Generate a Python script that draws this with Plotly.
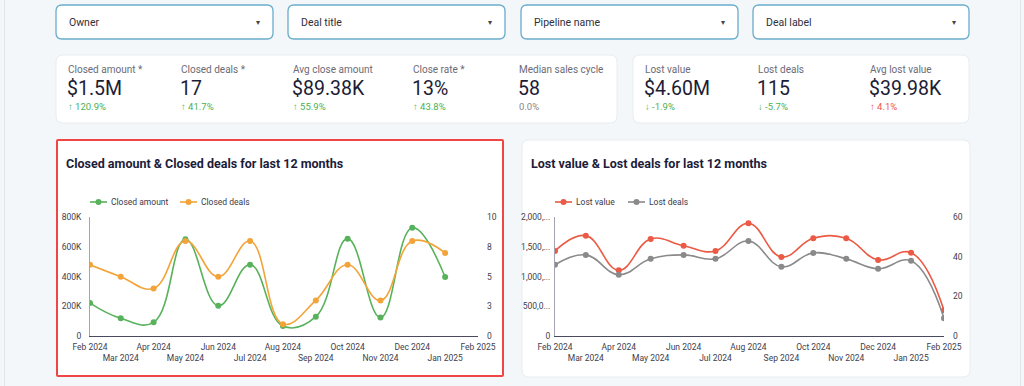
import plotly.graph_objects as go

W, H = 1024, 386

# ---------------- data ----------------
months = ["2024-02-01", "2024-03-01", "2024-04-01", "2024-05-01", "2024-06-01", "2024-07-01",
          "2024-08-01", "2024-09-01", "2024-10-01", "2024-11-01", "2024-12-01", "2025-01-01"]
months_lost = months + ["2025-02-01"]
closed_amount = [222000, 119000, 92000, 652000, 204000, 481000, 67000, 130000, 656000, 124000, 730000, 398000]
closed_deals = [6, 5, 4, 8, 5, 8, 1, 3, 6, 3, 8, 7]
lost_value = [1433000, 1691000, 1107000, 1635000, 1522000, 1433000, 1899000, 1331000,
              1646000, 1646000, 1281000, 1404000, 433000]
lost_deals = [36, 41, 31, 39, 41, 39, 48, 35, 42, 39, 34, 38, 9]

tick_dates = months_lost
tick_labels = ["Feb 2024", "Mar 2024", "Apr 2024", "May 2024", "Jun 2024", "Jul 2024", "Aug 2024",
               "Sep 2024", "Oct 2024", "Nov 2024", "Dec 2024", "Jan 2025", "Feb 2025"]

amount_ticks = [0, 200000, 400000, 600000, 800000]
amount_tick_labels = ["0", "200K", "400K", "600K", "800K"]
deals_ticks = [0, 2.5, 5, 7.5, 10]
deals_tick_labels = ["0", "3", "5", "8", "10"]
lost_value_ticks = [0, 500000, 1000000, 1500000, 2000000]
lost_value_tick_labels = ["0", "500,0...", "1,000,...", "1,500,...", "2,000,..."]
lost_deals_ticks = [0, 20, 40, 60]

filter_labels = ["Owner", "Deal title", "Pipeline name", "Deal label"]

kpi_labels = ["Closed amount *", "Closed deals *", "Avg close amount", "Close rate *", "Median sales cycle",
              "Lost value", "Lost deals", "Avg lost value"]
kpi_values = ["$1.5M", "17", "$89.38K", "13%", "58", "$4.60M", "115", "$39.98K"]
kpi_changes = ["↑ 120.9%", "↑ 41.7%", "↑ 55.9%", "↑ 43.8%", "0.0%", "↓ -1.9%", "↓ -5.7%", "↑ 4.1%"]
kpi_change_kind = ["good", "good", "good", "good", "flat", "good", "good", "bad"]

# ---------------- helpers ----------------
def px(x):
    return x / W

def py(y):
    return 1 - y / H

def rrect(x0, y0, x1, y1, r):
    def P(x, y):
        return f"{px(x):.5f},{py(y):.5f}"
    return (f"M {P(x0+r, y0)} L {P(x1-r, y0)} Q {P(x1, y0)} {P(x1, y0+r)} "
            f"L {P(x1, y1-r)} Q {P(x1, y1)} {P(x1-r, y1)} L {P(x0+r, y1)} "
            f"Q {P(x0, y1)} {P(x0, y1-r)} L {P(x0, y0+r)} Q {P(x0, y0)} {P(x0+r, y0)} Z")

FONT = "Roboto"
BG = "#f3f7f9"
GREEN = "#58b25b"
ORANGE = "#f2a43a"
RED = "#ea5a45"
GREY = "#8a8a8a"

fig = go.Figure()

# ---------------- traces ----------------
series = [
    (months, closed_amount, "Closed amount", "x", "y", GREEN),
    (months, closed_deals, "Closed deals", "x", "y2", ORANGE),
    (months_lost, lost_value, "Lost value", "x2", "y3", RED),
    (months_lost, lost_deals, "Lost deals", "x2", "y4", GREY),
]
for xs, ys, name, xa, ya, col in series:
    fig.add_trace(go.Scatter(x=xs, y=ys, name=name, xaxis=xa, yaxis=ya, mode="lines+markers",
                             line=dict(color=col, width=1.6, shape="spline", smoothing=1.2),
                             marker=dict(size=6, color=col), showlegend=False))

# ---------------- shapes ----------------
shapes = []
shapes.append(dict(type="line", xref="paper", yref="paper", x0=px(4.5), x1=px(4.5), y0=0, y1=1,
                   line=dict(color="#e2e6e8", width=1), layer="below"))
shapes.append(dict(type="line", xref="paper", yref="paper", x0=px(1020.5), x1=px(1020.5), y0=0, y1=1,
                   line=dict(color="#e2e6e8", width=1), layer="below"))
filter_x = [(56, 273), (288, 505), (521, 738), (753, 969)]
for (x0, x1) in filter_x:
    shapes.append(dict(type="path", xref="paper", yref="paper", path=rrect(x0, 5, x1, 39, 6),
                       fillcolor="white", line=dict(color="#6aaccb", width=1.3), layer="below"))
for (x0, x1) in [(56, 617), (633, 969)]:
    shapes.append(dict(type="path", xref="paper", yref="paper", path=rrect(x0, 55, x1, 123, 7),
                       fillcolor="white", line=dict(color="#e8edf0", width=1), layer="below"))
shapes.append(dict(type="path", xref="paper", yref="paper", path=rrect(57, 140, 503, 376, 1),
                   fillcolor="white", line=dict(color="#f04545", width=2), layer="below"))
shapes.append(dict(type="path", xref="paper", yref="paper", path=rrect(522, 140, 970, 377, 7),
                   fillcolor="white", line=dict(color="#e8edf0", width=1), layer="below"))

# ---------------- annotations ----------------
ann = []
def A(x, y, text, size, color, family=FONT, xanchor="left"):
    ann.append(dict(xref="paper", yref="paper", x=px(x), y=py(y), text=text, showarrow=False,
                    xanchor=xanchor, yanchor="middle", font=dict(family=family, size=size, color=color)))

filter_text_x = [68, 300, 533, 765]
arrow_x = [258, 490, 723, 954]
for lab, tx, ax in zip(filter_labels, filter_text_x, arrow_x):
    A(tx - 1, 22.5, lab, 10.5, "#2f2f3a")
    A(ax, 22.5, "▾", 8, "#444", family="DejaVu Sans", xanchor="center")

kpi_x = [67, 180, 292, 412, 518, 644, 757, 869]
color_map = {"good": "#4caf50", "bad": "#ef5350", "flat": "#888888"}
for lab, val, chg, kind, kx in zip(kpi_labels, kpi_values, kpi_changes, kpi_change_kind, kpi_x):
    A(kx - 1, 70, lab, 10, "#6b6b75")
    A(kx - 2, 88.5, val, 19.5, "#1c1c35")
    A(kx - 1, 106.5, chg, 9.5, color_map[kind])

A(64, 164, "<b>Closed amount & Closed deals for last 12 months</b>", 12.5, "#1c1c3a")
A(529, 164, "<b>Lost value & Lost deals for last 12 months</b>", 12.5, "#1c1c3a")

# custom legends (line + dot + label)
legend_items = [("Closed amount", GREEN, 90), ("Closed deals", ORANGE, 180),
                ("Lost value", RED, 555), ("Lost deals", GREY, 628)]
for name, col, lx in legend_items:
    shapes.append(dict(type="line", xref="paper", yref="paper", x0=px(lx), x1=px(lx + 17),
                       y0=py(202), y1=py(202), line=dict(color=col, width=1.6)))
    shapes.append(dict(type="circle", xref="paper", yref="paper", x0=px(lx + 5.5), x1=px(lx + 11.5),
                       y0=py(205), y1=py(199), fillcolor=col, line=dict(color=col, width=0)))
    A(lx + 19, 202, name, 8.5, "#3a3a4a")

# ---------------- axes ----------------
tick_text = [("<br>" + t) if i % 2 == 1 else t for i, t in enumerate(tick_labels)]
TICKFONT = dict(family=FONT, size=8.5, color="#3e3e4e")
ydom = [py(336), py(217.3)]

xaxis_common = dict(type="date", range=["2024-02-01", "2025-02-01"], tickmode="array",
                    tickvals=tick_dates, ticktext=tick_text, showgrid=False, zeroline=False,
                    showline=True, linecolor="#4a4a5e", linewidth=1, ticks="", tickfont=TICKFONT,
                    tickangle=0, automargin=False, fixedrange=True, ticklabelstandoff=3)
yaxis_common = dict(showgrid=False, zeroline=False, ticks="", tickfont=TICKFONT, fixedrange=True,
                    tickmode="array", automargin=False)

fig.update_layout(
    width=W, height=H,
    margin=dict(l=0, r=0, t=0, b=0),
    paper_bgcolor=BG, plot_bgcolor="rgba(0,0,0,0)",
    font=dict(family=FONT),
    showlegend=False,
    xaxis=dict(domain=[px(90), px(478)], anchor="y", **xaxis_common),
    yaxis=dict(domain=ydom, anchor="x", range=[0, 800000], tickvals=amount_ticks, ticktext=amount_tick_labels,
               showline=True, linecolor="#a4a4b0", linewidth=1, ticklabelstandoff=6, **yaxis_common),
    yaxis2=dict(overlaying="y", side="right", anchor="x", range=[0, 10], tickvals=deals_ticks,
                ticktext=deals_tick_labels, showline=False, ticklabelstandoff=8, **yaxis_common),
    xaxis2=dict(domain=[px(555), px(944)], anchor="y3", **xaxis_common),
    yaxis3=dict(domain=ydom, anchor="x2", range=[0, 2000000], tickvals=lost_value_ticks,
                ticktext=lost_value_tick_labels, showline=True, linecolor="#a4a4b0", linewidth=1,
                ticklabelstandoff=2, **yaxis_common),
    yaxis4=dict(overlaying="y3", side="right", anchor="x2", range=[0, 60], tickvals=lost_deals_ticks,
                showline=False, ticklabelstandoff=8, **yaxis_common),
    shapes=shapes,
    annotations=ann,
    hovermode=False,
)

fig.write_html("out.html", config={"displayModeBar": False},
               post_script="document.body.style.margin='0';document.body.style.overflow='hidden';")
